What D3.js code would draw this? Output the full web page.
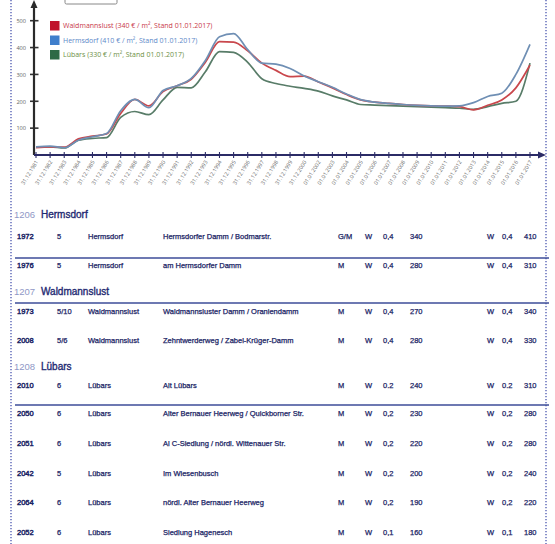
<html lang="de"><head>
<meta http-equiv="Content-Type" content="text/html; charset=UTF-8">
<title>Bodenrichtwerte</title>
<script type="text/javascript" src="https://cdn.jsdelivr.net/npm/d3@7"></script>
<style type="text/css">
body { margin: 0; background: #fff; }
svg { display: block; }
</style>
</head>
<body>

<script type="text/javascript">

var width = 555;
var height = 544;

// Stichtage der x-Achse
var dates = [
  "31.12.1981","31.12.1982","31.12.1983","31.12.1984","31.12.1985","31.12.1986",
  "31.12.1987","31.12.1988","31.12.1989","31.12.1990","31.12.1991","31.12.1992",
  "31.12.1993","31.12.1994","31.12.1995","31.12.1996","31.12.1997","31.12.1998",
  "31.12.1999","31.12.2000","01.01.2002","01.01.2003","01.01.2004","01.01.2005",
  "01.01.2006","01.01.2007","01.01.2008","01.01.2009","01.01.2010","01.01.2011",
  "01.01.2012","01.01.2013","01.01.2014","01.01.2015","01.01.2016","01.01.2017"
];

// €/m² je Ortsteil
var waldmannslust = [27,30,29,60,70,78,155,207,183,236,258,282,345,422,420,388,342,315,
  292,294,272,250,225,205,197,192,188,185,183,182,180,168,185,205,250,335];
var hermsdorf = [30,33,27,55,68,80,165,207,176,240,258,285,352,440,452,392,342,338,
  322,294,273,252,227,206,197,192,188,185,183,182,183,195,218,230,300,412];
var luebars = [30,30,26,55,62,65,140,162,150,205,252,250,310,385,382,345,284,266,
  256,248,238,220,205,188,186,184,182,180,178,176,174,170,180,192,200,342];

var yTicks = [100, 200, 300, 400, 500];

var legendNames = [
  "Waldmannslust (340 € / m², Stand 01.01.2017)",
  "Hermsdorf (410 € / m², Stand 01.01.2017)",
  "Lübars (330 € / m², Stand 01.01.2017)"
];
var legendBox = ["#c0142c", "#3f7fcc", "#2e6a46"];
var legendText = ["#c8384a", "#5c88c8", "#6d8f45"];
var lineColors = ["#c9474c", "#6f8fb4", "#587c68"];

// Tabelle
var sections = [
  {nr: "1206", name: "Hermsdorf", y: 218},
  {nr: "1207", name: "Waldmannslust", y: 295},
  {nr: "1208", name: "Lübars", y: 370}
];
var rows = [
  ["1972","5","Hermsdorf","Hermsdorfer Damm / Bodmarstr.","G/M","W","0,4","340","W","0,4","410"],
  ["1976","5","Hermsdorf","am Hermsdorfer Damm","M","W","0,4","280","W","0,4","310"],
  ["1973","5/10","Waldmannslust","Waldmannsluster Damm / Oraniendamm","M","W","0,4","270","W","0,4","340"],
  ["2008","5/6","Waldmannslust","Zehntwerderweg / Zabel-Krüger-Damm","M","W","0,4","280","W","0,4","330"],
  ["2010","6","Lübars","Alt Lübars","M","W","0.2","240","W","0.2","310"],
  ["2050","6","Lübars","Alter Bernauer Heerweg / Quickborner Str.","M","W","0,2","230","W","0,2","280"],
  ["2051","6","Lübars","Al C-Siedlung / nördl. Wittenauer Str.","M","W","0,2","220","W","0,2","280"],
  ["2042","5","Lübars","Im Wiesenbusch","M","W","0,2","200","W","0,2","240"],
  ["2064","6","Lübars","nördl. Alter Bernauer Heerweg","M","W","0,2","190","W","0,2","220"],
  ["2052","6","Lübars","Siedlung Hagenesch","M","W","0,1","160","W","0,1","180"]
];
var rowY = [239, 268, 314, 343, 388, 416, 446, 476, 505, 535];
var ruleY = [258, 303, 405];
var colX = [17, 57, 88, 163, 338, 365, 383, 410, 487, 502, 524];

var svg = d3.select("body")
            .append("svg")
            .attr("width", width)
            .attr("height", height);

// gepunkteter Rahmen
[11, 546].forEach(function(bx){
  svg.append("line")
  .attr("x1", bx).attr("x2", bx)
  .attr("y1", 0).attr("y2", height)
  .attr("stroke", "#3b48a8")
  .attr("stroke-width", 1.2)
  .attr("stroke-dasharray", "1.3,1.7");
});

// abgeschnittener Kasten oben
svg.append("rect")
.attr("x", 65).attr("y", -6)
.attr("width", 52).attr("height", 10)
.attr("rx", 1.5)
.attr("fill", "none")
.attr("stroke", "#888")
.attr("stroke-width", 1);

var x = d3.scalePoint().domain(dates).range([36, 530]);
var y = d3.scaleLinear().domain([0, 500]).range([155, 20.7]);

// y-Achse
var yAxis = svg.append("g")
.attr("transform", "translate(34,0)")
.call(d3.axisLeft(y).tickValues(yTicks).tickSize(0).tickPadding(8));
yAxis.select(".domain").remove();
yAxis.selectAll("text")
.attr("font-family", "Open Sans")
.attr("font-size", 5.6)
.attr("fill", "#666");

svg.selectAll(".ytick")
.data(yTicks).enter()
.append("line")
.attr("class", "ytick")
.attr("x1", 30).attr("x2", 38.5)
.attr("y1", function(d){ return y(d); })
.attr("y2", function(d){ return y(d); })
.attr("stroke", "#333")
.attr("stroke-width", 1.6);

svg.append("line")
.attr("x1", 34).attr("x2", 34)
.attr("y1", 155).attr("y2", 4)
.attr("stroke", "#2a2a2a")
.attr("stroke-width", 2.2);
svg.append("path")
.attr("d", "M34,0 L30.5,8 L37.5,8 Z")
.attr("fill", "#2a2a2a");

// Linien
var series = [luebars, waldmannslust, hermsdorf];
var seriesColor = [lineColors[2], lineColors[0], lineColors[1]];

var line = d3.line()
.x(function(d, i){ return x(dates[i]); })
.y(function(d){ return y(d); })
.curve(d3.curveMonotoneX);

svg.selectAll(".series")
.data(series).enter()
.append("path")
.attr("class", "series")
.attr("d", function(d){ return line(d); })
.attr("fill", "none")
.attr("stroke", function(d, i){ return seriesColor[i]; })
.attr("stroke-width", 1.7)
.attr("stroke-linejoin", "round");

// x-Achse
var xAxis = svg.append("g")
.attr("transform", "translate(0,155)")
.call(d3.axisBottom(x).tickSize(0).tickPadding(0));
xAxis.select(".domain").remove();
xAxis.selectAll("text")
.attr("font-family", "Open Sans")
.attr("font-size", 5.4)
.attr("fill", "#6a6a6a")
.attr("text-anchor", "end")
.attr("dy", 0)
.attr("transform", "translate(2,7) rotate(-58)");

svg.append("line")
.attr("x1", 34).attr("x2", 540)
.attr("y1", 155).attr("y2", 155)
.attr("stroke", "#2b2b66")
.attr("stroke-width", 2);
svg.append("path")
.attr("d", "M546,155 L538,151.5 L538,158.5 Z")
.attr("fill", "#2b2b66");

svg.selectAll(".xtick")
.data(dates).enter()
.append("line")
.attr("class", "xtick")
.attr("x1", function(d){ return x(d); })
.attr("x2", function(d){ return x(d); })
.attr("y1", 152).attr("y2", 158)
.attr("stroke", "#2b2b66")
.attr("stroke-width", 1.1);

// Legende
var legend = svg.selectAll(".legend")
.data(legendNames).enter()
.append("g")
.attr("class", "legend")
.attr("transform", function(d, i){ return "translate(50," + (21 + i * 14.5) + ")"; });

legend.append("rect")
.attr("width", 9.5).attr("height", 9.5)
.attr("fill", function(d, i){ return legendBox[i]; });

legend.append("text")
.attr("x", 13).attr("y", 7.3)
.attr("font-family", "Open Sans")
.attr("font-size", 7)
.attr("fill", function(d, i){ return legendText[i]; })
.text(function(d){ return d; });

// Tabelle
var sec = svg.selectAll(".section")
.data(sections).enter()
.append("g")
.attr("class", "section");

sec.append("text")
.attr("x", 14)
.attr("y", function(d){ return d.y; })
.attr("font-family", "Liberation Sans")
.attr("font-size", 9.5)
.attr("fill", "#8f98c6")
.text(function(d){ return d.nr; });

sec.append("text")
.attr("x", 41)
.attr("y", function(d){ return d.y; })
.attr("font-family", "Liberation Sans")
.attr("font-size", 10)
.attr("fill", "#1f2a72")
.attr("stroke", "#1f2a72")
.attr("stroke-width", 0.35)
.text(function(d){ return d.name; });

svg.selectAll(".rule")
.data(ruleY).enter()
.append("line")
.attr("class", "rule")
.attr("x1", 15).attr("x2", 549)
.attr("y1", function(d){ return d; })
.attr("y2", function(d){ return d; })
.attr("stroke", "#3d4c98")
.attr("stroke-width", 1.6);

var row = svg.selectAll(".row")
.data(rows).enter()
.append("g")
.attr("class", "row")
.attr("transform", function(d, i){ return "translate(0," + rowY[i] + ")"; });

row.selectAll("text")
.data(function(d){ return d; }).enter()
.append("text")
.attr("x", function(d, i){ return colX[i]; })
.attr("y", 0)
.attr("font-family", "Liberation Sans")
.attr("font-size", 7.5)
.attr("fill", "#1a2465")
.attr("stroke", "#1a2465")
.attr("stroke-width", function(d, i){ return i == 0 ? 0.45 : 0.25; })
.text(function(d){ return d; });

</script>
</body></html>
